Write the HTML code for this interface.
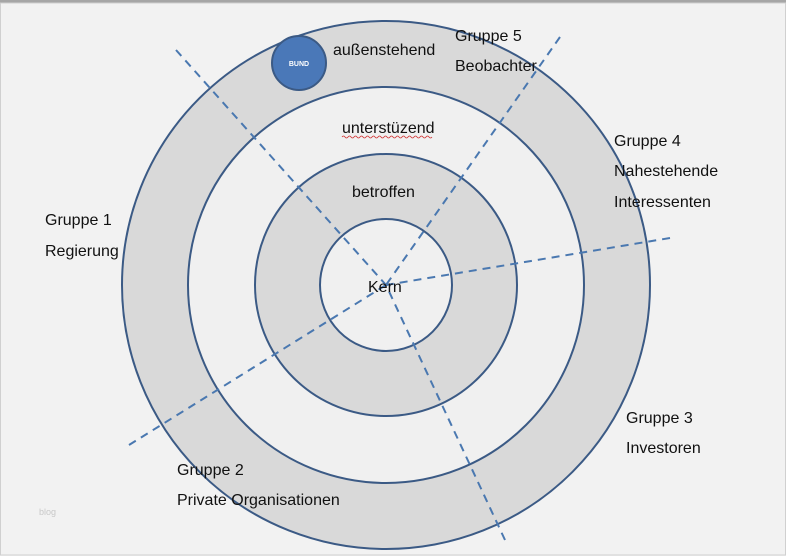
<!DOCTYPE html>
<html><head><meta charset="utf-8"><style>
html,body{margin:0;padding:0;background:#f2f2f2;}
svg{display:block;}
text{font-family:"Liberation Sans",Arial,sans-serif;font-size:16px;fill:#111;}
</style></head><body>
<svg width="786" height="556" viewBox="0 0 786 556">
<rect x="0" y="0" width="786" height="556" fill="#f2f2f2"/>
<rect x="0" y="0" width="786" height="3" fill="#a6a6a6"/>
<rect x="0.5" y="3" width="785" height="552" fill="none" stroke="#d0d0d0" stroke-width="1"/>
<g stroke="#3b5a85" stroke-width="2">
<circle cx="386" cy="285" r="264" fill="#d9d9d9"/>
<circle cx="386" cy="285" r="198" fill="#f0f0f0"/>
<circle cx="386" cy="285" r="131" fill="#d9d9d9"/>
<circle cx="386" cy="285" r="66" fill="#f0f0f0"/>
</g>
<g stroke="#4a78b0" stroke-width="2" stroke-dasharray="8,6" fill="none">
<line x1="176" y1="50" x2="386" y2="285"/>
<line x1="560" y1="37" x2="386" y2="285"/>
<line x1="670" y1="238" x2="386" y2="285"/>
<line x1="505" y1="540" x2="386" y2="285"/>
<line x1="129" y1="445" x2="386" y2="285"/>
</g>
<circle cx="299" cy="63" r="27" fill="#4a78b8" stroke="#3b5a85" stroke-width="2"/>
<text x="299" y="66" text-anchor="middle" style="font-size:7px;fill:#fff;font-weight:bold">BUND</text>
<text x="333" y="55">außenstehend</text>
<text x="342" y="133">unterstüzend</text>
<path d="M342 137 q1.5 -2 3 0 t3 0 t3 0 t3 0 t3 0 t3 0 t3 0 t3 0 t3 0 t3 0 t3 0 t3 0 t3 0 t3 0 t3 0 t3 0 t3 0 t3 0 t3 0 t3 0 t3 0 t3 0 t3 0 t3 0 t3 0 t3 0 t3 0 t3 0 t3 0 t3 0" stroke="#d03030" stroke-width="0.8" fill="none"/>
<text x="352" y="197">betroffen</text>
<text x="368" y="292">Kern</text>
<text x="455" y="41">Gruppe 5</text>
<text x="455" y="71">Beobachter</text>
<text x="614" y="146">Gruppe 4</text>
<text x="614" y="176">Nahestehende</text>
<text x="614" y="207">Interessenten</text>
<text x="45" y="225">Gruppe 1</text>
<text x="45" y="256">Regierung</text>
<text x="626" y="423">Gruppe 3</text>
<text x="626" y="453">Investoren</text>
<text x="177" y="475">Gruppe 2</text>
<text x="177" y="505">Private  Organisationen</text>
<text x="39" y="515" style="font-size:9px;fill:#c8c8c8">blog</text>
</svg>
</body></html>
